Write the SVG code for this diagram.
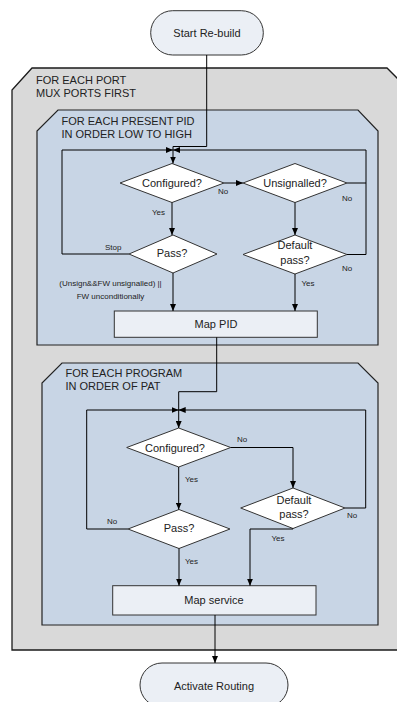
<svg xmlns="http://www.w3.org/2000/svg" width="397" height="702" viewBox="0 0 397 702">
<defs>
<style>
.t{font-family:"Liberation Sans",Arial,sans-serif;font-size:11px;fill:#222;}
.m{text-anchor:middle;}
.s{font-family:"Liberation Sans",Arial,sans-serif;font-size:8px;fill:#222;}
.outer{fill:#d9d9d9;stroke:#1a1a1a;stroke-width:1.3;}
.inner{fill:#c8d5e5;stroke:#222;stroke-width:1.2;}
.box{fill:#ebeff5;stroke:#333;stroke-width:1;}
.dia{fill:#fff;stroke:#333;stroke-width:1;}
.c{fill:none;stroke:#000;stroke-width:1;}
</style>
<marker id="a" markerWidth="7" markerHeight="6" refX="7" refY="3" orient="auto" markerUnits="userSpaceOnUse">
<path d="M0,0 L7,3 L0,6 z" fill="#000"/>
</marker>
</defs>

<g id="loop-port">
<polygon class="outer" points="32,68 387,68 409,90 409,650 12,650 12,90"/>
<text class="t" x="36" y="84">FOR EACH PORT</text>
<text class="t" x="36" y="97">MUX PORTS FIRST</text>
</g>

<g id="loop-pid">
<polygon class="inner" points="58,110 358,110 378,131 378,345 37,345 37,131"/>
<text class="t" x="61.5" y="124.5">FOR EACH PRESENT PID</text>
<text class="t" x="61.5" y="137.5">IN ORDER LOW TO HIGH</text>
</g>

<g id="loop-program">
<polygon class="inner" points="62,363 358,363 378,383 378,625 42,625 42,383"/>
<text class="t" x="65.5" y="377">FOR EACH PROGRAM</text>
<text class="t" x="65.5" y="390">IN ORDER OF PAT</text>
</g>

<g id="start">
<rect class="box" x="150.7" y="10.7" width="112.6" height="44.3" rx="22" ry="22"/>
<text class="t m" x="207" y="36.5">Start Re-build</text>
</g>

<g id="configured1">
<polygon class="dia" points="120,183 172,163.5 224,183 172,202.5"/>
<text class="t m" x="172" y="187">Configured?</text>
</g>

<g id="unsignalled">
<polygon class="dia" points="243,183 295,163.5 347,183 295,202.5"/>
<text class="t m" x="295" y="187">Unsignalled?</text>
</g>

<g id="pass1">
<polygon class="dia" points="129,254 173,235 217,254 173,273"/>
<text class="t m" x="172" y="257">Pass?</text>
</g>

<g id="default1">
<polygon class="dia" points="243,254.5 295,235 347,254.5 295,274"/>
<text class="t m" x="295" y="248.5">Default</text>
<text class="t m" x="295" y="263.5">pass?</text>
</g>

<g id="map-pid">
<rect class="box" x="114.3" y="311" width="203" height="26.3"/>
<text class="t m" x="216" y="328">Map PID</text>
</g>

<g id="configured2">
<polygon class="dia" points="126.7,447.5 178.7,428 230.7,447.5 178.7,467"/>
<text class="t m" x="175" y="451.5">Configured?</text>
</g>

<g id="default2">
<polygon class="dia" points="240.7,508 293,488 345,508 293,528.5"/>
<text class="t m" x="294" y="504">Default</text>
<text class="t m" x="294" y="517.5">pass?</text>
</g>

<g id="pass2">
<polygon class="dia" points="128,529 179,509.5 230,529 179,548.5"/>
<text class="t m" x="179" y="532">Pass?</text>
</g>

<g id="map-service">
<rect class="box" x="112.7" y="585.7" width="203.3" height="29.3"/>
<text class="t m" x="214" y="603.5">Map service</text>
</g>

<g id="activate">
<rect class="box" x="140" y="663" width="148" height="44" rx="22" ry="22"/>
<text class="t m" x="214" y="690">Activate Routing</text>
</g>

<g id="connectors">
<path class="c" d="M206.7,55 V146.5 H173 V163.5" marker-end="url(#a)"/>
<path class="c" d="M129,254 H62 V150 H173" marker-end="url(#a)"/>
<path class="c" d="M347,254.5 H366 V150 H173" marker-end="url(#a)"/>
<path class="c" d="M347,183 H366"/>
<path class="c" d="M224,183 H243" marker-end="url(#a)"/>
<path class="c" d="M172,202.5 V235" marker-end="url(#a)"/>
<path class="c" d="M295,202.5 V235" marker-end="url(#a)"/>
<path class="c" d="M173,273 V311" marker-end="url(#a)"/>
<path class="c" d="M295,274 V311" marker-end="url(#a)"/>
<path class="c" d="M216.7,337.3 V391.7 H178.7 V428" marker-end="url(#a)"/>
<path class="c" d="M128,529 H86.7 V410 H178.7" marker-end="url(#a)"/>
<path class="c" d="M345,508 H365.7 V410 H178.7" marker-end="url(#a)"/>
<path class="c" d="M230.7,447.5 H293 V488" marker-end="url(#a)"/>
<path class="c" d="M178.7,467 V509.5" marker-end="url(#a)"/>
<path class="c" d="M293,528.5 V529 H250 V585.7" marker-end="url(#a)"/>
<path class="c" d="M179,548.5 V585.7" marker-end="url(#a)"/>
<path class="c" d="M215,615 V663" marker-end="url(#a)"/>
</g>

<g id="labels">
<text class="s" x="218" y="193.5">No</text>
<text class="s" x="342" y="200.5">No</text>
<text class="s" x="152" y="215">Yes</text>
<text class="s" x="105" y="249.5">Stop</text>
<text class="s" x="342" y="270.5">No</text>
<text class="s" x="301.5" y="285.5">Yes</text>
<text class="s m" x="110.5" y="285.5">(Unsign&amp;&amp;FW unsignalled) ||</text>
<text class="s m" x="110.5" y="298.5">FW unconditionally</text>
<text class="s" x="237" y="441.5">No</text>
<text class="s" x="185" y="481.5">Yes</text>
<text class="s" x="347" y="517.5">No</text>
<text class="s" x="271.5" y="540.5">Yes</text>
<text class="s" x="107" y="524">No</text>
<text class="s" x="185" y="564">Yes</text>
</g>
</svg>
